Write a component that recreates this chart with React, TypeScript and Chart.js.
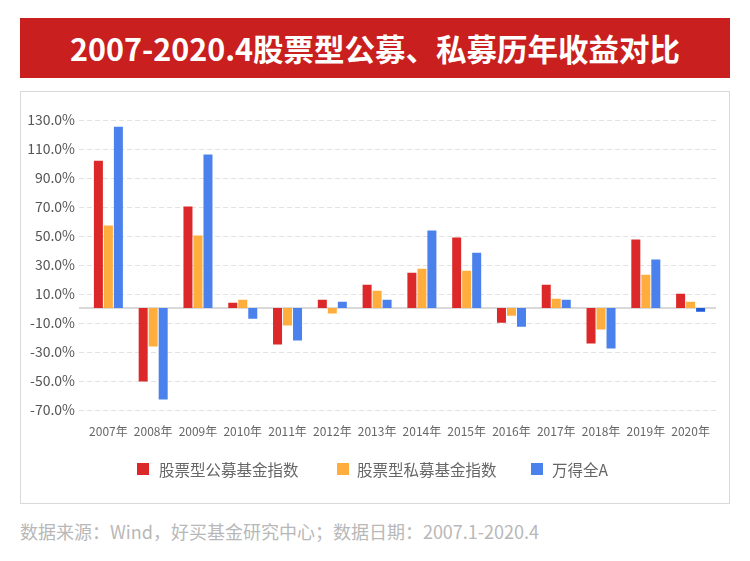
import React, { useEffect, useRef } from "react";
import { Chart, registerables } from "chart.js";

Chart.register(...registerables);

const categories = ["2007年", "2008年", "2009年", "2010年", "2011年", "2012年", "2013年", "2014年", "2015年", "2016年", "2017年", "2018年", "2019年", "2020年"];
const publicFund = [101.5, -50.7, 70.0, 3.7, -25.1, 5.7, 16.1, 24.4, 48.6, -10.2, 16.1, -24.4, 47.2, 9.9];
const privateFund = [56.9, -26.5, 50.0, 5.7, -12.0, -3.7, 12.0, 27.1, 25.8, -5.3, 6.4, -14.8, 23.0, 4.4];
const windA = [125.0, -63.1, 105.9, -7.4, -22.4, 4.3, 5.7, 53.4, 38.2, -12.9, 5.7, -27.9, 33.4, -2.6];
const seriesNames = ["股票型公募基金指数", "股票型私募基金指数", "万得全A"];
const yMin = -70;
const yMax = 130;
const yStep = 20;

const FONT = '"Noto Sans CJK SC", "Noto Sans", sans-serif';
const RED = "#dc2828";
const ORANGE = "#ffae3d";
const BLUE = "#4b81ec";
const BLUE_DARK = "#1f5bd8";

const gridPlugin = {
  id: "customGrid",
  beforeDatasetsDraw(chart: any) {
    const { ctx, chartArea, scales } = chart;
    const y = scales.y;
    const left = chartArea.left - 7;
    const right = chartArea.right + 3;
    ctx.save();
    ctx.lineWidth = 1;
    ctx.strokeStyle = "#e2e2e2";
    ctx.setLineDash([5, 3]);
    for (let v = yMin; v <= yMax; v += yStep) {
      const py = Math.round(y.getPixelForValue(v)) + 0.5;
      ctx.beginPath();
      ctx.moveTo(left, py);
      ctx.lineTo(right, py);
      ctx.stroke();
    }
    ctx.setLineDash([]);
    ctx.strokeStyle = "#cccccc";
    ctx.lineWidth = 1.5;
    const zy = y.getPixelForValue(0);
    ctx.beginPath();
    ctx.moveTo(left, zy);
    ctx.lineTo(right, zy);
    ctx.stroke();
    ctx.restore();
  },
};

function ChartBox() {
  const ref = useRef<HTMLCanvasElement | null>(null);
  useEffect(() => {
    if (!ref.current) return;
    const blueColors = windA.map((_, i) => (i === windA.length - 1 ? BLUE_DARK : BLUE));
    const chart = new Chart(ref.current, {
      type: "bar",
      data: {
        labels: categories,
        datasets: [
          { label: seriesNames[0], data: publicFund, backgroundColor: RED },
          { label: seriesNames[1], data: privateFund, backgroundColor: ORANGE },
          { label: seriesNames[2], data: windA, backgroundColor: blueColors },
        ],
      },
      options: {
        animation: false,
        responsive: false,
        maintainAspectRatio: false,
        layout: { padding: { left: 0, right: 16, top: 27.5, bottom: 49 } },
        datasets: { bar: { categoryPercentage: 0.67, barPercentage: 0.9 } },
        plugins: { legend: { display: false }, tooltip: { enabled: false } },
        scales: {
          x: {
            grid: { display: false, drawTicks: false },
            border: { display: false },
            ticks: {
              color: "#666666",
              font: { family: FONT, size: 12 },
              padding: 15,
              maxRotation: 0,
              autoSkip: false,
            },
          },
          y: {
            min: yMin,
            max: yMax,
            grid: { display: false, drawTicks: false },
            border: { display: false },
            afterFit(scale: any) {
              scale.width = 65;
            },
            ticks: {
              stepSize: yStep,
              color: "#555555",
              font: { family: FONT, size: 14 },
              padding: 11,
              callback: (v: any) => Number(v).toFixed(1) + "%",
            },
          },
        },
      },
      plugins: [gridPlugin],
    });
    return () => chart.destroy();
  }, []);
  return <canvas ref={ref} width={708} height={411} style={{ display: "block", width: 708, height: 411 }} />;
}

const legendItems = [
  { name: seriesNames[0], color: RED, box: 137, text: 159 },
  { name: seriesNames[1], color: ORANGE, box: 337, text: 357 },
  { name: seriesNames[2], color: BLUE, box: 531, text: 552 },
];

export default function App() {
  return (
    <div
      style={{
        position: "fixed",
        left: 0,
        top: 0,
        width: 750,
        height: 561,
        background: "#ffffff",
        fontFamily: FONT,
        overflow: "hidden",
      }}
    >
      <div
        style={{
          position: "absolute",
          left: 20,
          top: 18,
          width: 710,
          height: 60,
          background: "#c91f1f",
          color: "#ffffff",
          fontWeight: 700,
          fontSize: 30.5,
          lineHeight: "60px",
          textAlign: "center",
          whiteSpace: "nowrap",
        }}
      >
        2007-2020.4股票型公募、私募历年收益对比
      </div>
      <div
        style={{
          position: "absolute",
          left: 20,
          top: 91,
          width: 708,
          height: 411,
          border: "1px solid #d9d9d9",
        }}
      >
        <ChartBox />
      </div>
      {legendItems.map((it) => (
        <React.Fragment key={it.name}>
          <div
            style={{
              position: "absolute",
              left: it.box,
              top: 463,
              width: 12,
              height: 12,
              background: it.color,
            }}
          />
          <div
            style={{
              position: "absolute",
              left: it.text,
              top: 459,
              height: 20,
              lineHeight: "20px",
              fontSize: 15.5,
              color: "#666666",
              whiteSpace: "nowrap",
            }}
          >
            {it.name}
          </div>
        </React.Fragment>
      ))}
      <div
        style={{
          position: "absolute",
          left: 20,
          top: 519,
          height: 24,
          lineHeight: "24px",
          fontSize: 18,
          color: "#b8b8b8",
          whiteSpace: "nowrap",
        }}
      >
        数据来源：Wind，好买基金研究中心；数据日期：2007.1-2020.4
      </div>
    </div>
  );
}
